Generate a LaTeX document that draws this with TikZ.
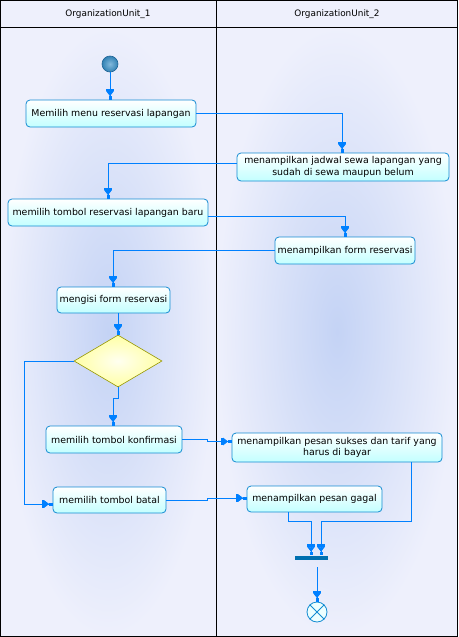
\documentclass[tikz,border=0pt]{standalone}
\usepackage{fontspec}
\setmainfont{DejaVu Sans}
\usetikzlibrary{arrows.meta,shapes.geometric,calc}
\definecolor{bg}{RGB}{238,240,252}
\definecolor{hdr}{RGB}{238,240,252}
\definecolor{lanec}{RGB}{196,211,245}
\definecolor{flowc}{RGB}{0,128,255}
\definecolor{boxb}{RGB}{20,140,210}
\definecolor{boxf}{RGB}{195,255,255}
\definecolor{diaf}{RGB}{255,255,165}
\definecolor{diac}{RGB}{255,255,240}
\definecolor{diab}{RGB}{150,150,0}
\definecolor{barc}{RGB}{0,112,176}
\definecolor{startb}{RGB}{30,100,150}
\definecolor{starti}{RGB}{130,185,220}
\definecolor{starto}{RGB}{50,130,180}
\begin{document}
\begin{tikzpicture}[x=1pt,y=-1pt,
  act/.style={draw=boxb, line width=0.8pt, rounded corners=4pt, top color=white, bottom color=boxf,
    inner sep=0pt, font=\fontsize{9.4}{11.5}\selectfont, align=center, text=black},
  flow/.style={draw=flowc, line width=0.9pt,
    -{Rectangle[length=2.5pt,width=7.5pt,sep=0pt]Triangle[length=5pt,width=7.5pt,sep=0pt]Rectangle[length=3.5pt,width=3pt]}},
  lane/.style={inner color=lanec, outer color=bg},
  hlabel/.style={font=\fontsize{8.9}{10}\selectfont, text=black}
]
\useasboundingbox (0,0) rectangle (458,637);
% background
\fill[bg] (0,0) rectangle (458,637);
\shade[lane] (0,27) rectangle (216,637);
\shade[lane] (216,27) rectangle (458,637);
\fill[hdr] (0,0) rectangle (458,27);
\draw[line width=1.2pt] (0.6,0.6) rectangle (457.4,636.4);
\draw[line width=1pt] (0,27) -- (458,27);
\draw[line width=1pt] (216,0) -- (216,637);
\node[hlabel] (h1) at (108,14) {OrganizationUnit\_1};
\node[hlabel] (h2) at (337,14) {OrganizationUnit\_2};

% nodes
\node[circle, minimum size=16pt, inner sep=0pt, draw=startb, line width=0.6pt,
  inner color=starti, outer color=starto] (start) at (110,64) {};
\node[act, minimum width=170pt, minimum height=27pt] (b1) at (111,113.5) {Memilih menu reservasi lapangan};
\node[act, minimum width=212pt, minimum height=28pt] (b2) at (343,167) {menampilkan jadwal sewa lapangan yang\\sudah di sewa maupun belum};
\node[act, minimum width=200pt, minimum height=27pt] (b3) at (108,212.5) {memilih tombol reservasi lapangan baru};
\node[act, minimum width=140pt, minimum height=27pt] (b4) at (345,250.5) {menampilkan form reservasi};
\node[act, minimum width=113pt, minimum height=26pt] (b5) at (113.5,300) {mengisi form reservasi};
\node[diamond, shape aspect=1.7, draw=diab, line width=0.6pt, inner sep=0pt,
  minimum width=88pt, minimum height=52pt, inner color=diac, outer color=diaf] (dia) at (118,361) {};
\node[act, minimum width=136pt, minimum height=27pt] (b6) at (114,439.5) {memilih tombol konfirmasi};
\node[act, minimum width=113pt, minimum height=26pt] (b7) at (109.5,500) {memilih tombol batal};
\node[act, minimum width=210pt, minimum height=29pt] (b8) at (337,447.5) {menampilkan pesan sukses dan tarif yang\\harus di bayar};
\node[act, minimum width=135pt, minimum height=26pt] (b9) at (314.5,499) {menampilkan pesan gagal};
\node[rectangle, fill=barc, minimum width=33pt, minimum height=4pt, inner sep=0pt] (bar) at (311.5,557.5) {};
\node[circle, minimum size=20pt, inner sep=0pt, draw=boxb, line width=0.8pt, fill=white!70!boxf] (endn) at (317,612) {};
\draw[boxb, line width=0.8pt] (endn.north west) -- (endn.south east) (endn.north east) -- (endn.south west);

% connectors
\draw[flow] (start) -- (start |- b1.north);
\draw[flow] (b1.east) -| ($(b2.north)+(-1,0)$);
\draw[flow] ($(b2.west)+(0,-4)$) -| (b3.north);
\draw[flow] ($(b3.east)+(0,3.5)$) -| (b4.north);
\draw[flow] (b4.west) -| ($(b5.north)+(-0.5,0)$);
\draw[flow] ($(b5.south)+(4.5,0)$) -- (dia.north);
\draw[flow] (dia.south) -- ++(0,11) -| ($(b6.north)+(-1,0)$);
\draw[flow] (dia.west) -- ++(-49,0) |- ($(b7.west)+(0,4)$);
\draw[flow] ($(b6.east)+(0,-0.2)$) -- ++(25,0) |- ($(b8.west)+(0,-6)$);
\draw[flow] (b7.east) -- ++(41,0) |- ($(b9.west)+(0,-1)$);
\draw[flow] ($(b9.south)+(-26,0)$) -- ++(0,9) -| ($(bar.north)+(-0.5,0)$);
\draw[flow] ($(b8.south)+(74,0)$) -- ++(0,59) -| ($(bar.north)+(9.5,0)$);
\draw[flow] ($(bar.south)+(5.5,7.5)$) -- (endn.north);
\end{tikzpicture}
\end{document}
